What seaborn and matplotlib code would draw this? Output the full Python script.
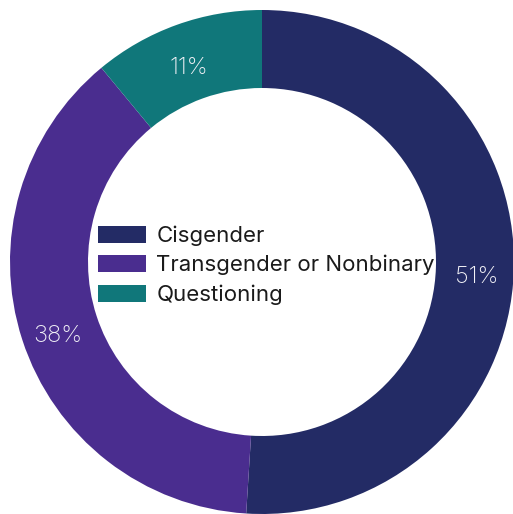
import matplotlib
matplotlib.use("Agg")
import matplotlib.pyplot as plt
import seaborn as sns
import numpy as np
from matplotlib.patches import Patch

categories = ["Cisgender", "Transgender or Nonbinary", "Questioning"]
values = [51, 38, 11]
labels = ["51%", "38%", "11%"]
colors = ["#232B65", "#4A2D8F", "#10777A"]

sns.set_theme(style="white")
plt.rcParams['font.family'] = ['Inter', 'DejaVu Sans']

fig = plt.figure(figsize=(5.13, 5.14), dpi=100)
ax = fig.add_axes([0, 0, 1, 1])
R = 252
W = 78
wedges, _ = ax.pie(values, colors=colors, startangle=90, counterclock=False,
                   radius=R, center=(0, 0),
                   wedgeprops=dict(width=W, linewidth=0))
cum = 0
for v, lab in zip(values, labels):
    mid = (cum + v / 2) / 100 * 2 * np.pi
    rr = R - W / 2 + 2
    x = rr * np.sin(mid)
    y = rr * np.cos(mid) - 8
    ax.text(x, y, lab, color="#f2f2f7", fontsize=17, fontweight="light",
            ha="center", va="center")
    cum += v
ax.set_xlim(-262, 251)
ax.set_ylim(-252, 262)
ax.set_aspect("equal")
ax.axis("off")

handles = [Patch(facecolor=c, edgecolor="none") for c in colors]
leg = ax.legend(handles, categories, loc="center left",
                bbox_to_anchor=(0.17, 0.484), frameon=False,
                fontsize=16, handlelength=2.16, handleheight=0.8,
                handletextpad=0.45, labelspacing=0.4, borderpad=0)
for t in leg.get_texts():
    t.set_color("#1a1a1a")

fig.savefig("out.png", dpi=100, facecolor="white")
